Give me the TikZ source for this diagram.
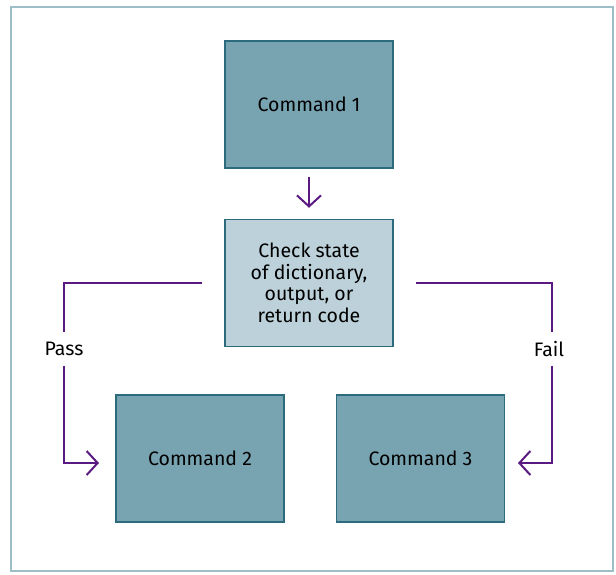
\documentclass[tikz,border=0pt]{standalone}
\usepackage{fontspec}
\setmainfont{Fira Sans}
\usetikzlibrary{arrows.meta}
\definecolor{boxfill}{HTML}{78A3B1}
\definecolor{boxline}{HTML}{2B6B7D}
\definecolor{checkfill}{HTML}{BCD1D9}
\definecolor{flow}{HTML}{5B1A82}
\definecolor{frame}{HTML}{9DBDC7}
\tikzset{
  cmdbox/.style={draw=boxline, fill=boxfill, line width=1.5pt,
    minimum width=168pt, minimum height=127pt, inner sep=0pt,
    font=\fontsize{19.5}{21.5}\selectfont},
  checkbox/.style={cmdbox, fill=checkfill, align=center},
  flowline/.style={draw=flow, line width=2pt,
    -{Straight Barb[length=11pt,width=24pt,line width=2pt]}},
  flowlabel/.style={font=\fontsize{19.5}{22}\selectfont, inner sep=0pt,
    minimum height=33pt}
}
\begin{document}
\begin{tikzpicture}[x=1pt,y=-1pt]
  \useasboundingbox (0,0) rectangle (616,574);
  \draw[frame, line width=2.5pt] (11,7) rectangle (613,571);
  \node[cmdbox] (cmd1) at (309,104.5) {Command 1};
  \node[checkbox] (check) at (309,283) {Check state\\of dictionary,\\output, or\\return code};
  \node[cmdbox] (cmd2) at (200,458.5) {Command 2};
  \node[cmdbox] (cmd3) at (420.5,458.5) {Command 3};
  \node[flowlabel] (pass) at (64,349) {Pass};
  \node[flowlabel] (fail) at (549,349) {Fail};
  \coordinate (passend) at (99,463);
  \coordinate (failend) at (518,463);
  \draw[flowline, shorten <=8pt, shorten >=11pt] (cmd1) -- (check);
  \draw[flowline, -] ([xshift=-22pt]check.west) -| (pass.north);
  \draw[flowline] (pass.south) |- (passend);
  \draw[flowline, -] ([xshift=22pt]check.east) -| ([xshift=3pt]fail.north);
  \draw[flowline] ([xshift=3pt]fail.south) |- (failend);
\end{tikzpicture}
\end{document}
